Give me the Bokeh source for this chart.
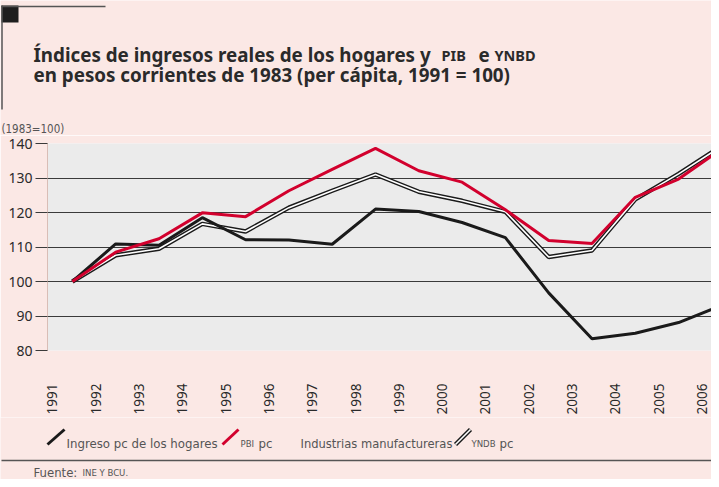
import numpy as np
from bokeh.plotting import figure
from bokeh.layouts import column
from bokeh.models import FixedTicker, Label, Range1d
from bokeh.embed import file_html
from bokeh.resources import INLINE

# ---------------- data ----------------
years = ["1991", "1992", "1993", "1994", "1995", "1996", "1997", "1998",
         "1999", "2000", "2001", "2002", "2003", "2004", "2005", "2006"]
ingreso_hogares = [100, 110.9, 110.5, 118.5, 112.1, 112.0, 110.8, 121.0,
                   120.3, 117.1, 112.7, 96.7, 83.4, 85.0, 88.1, 93.1]
pbi_pc = [100, 108.5, 112.4, 119.9, 118.8, 126.3, 132.5, 138.6,
          132.1, 128.8, 120.8, 111.9, 111.0, 124.4, 129.7, 138.5]
yndb_pc = [100, 107.6, 109.5, 116.7, 114.5, 121.4, 126.3, 131.0,
           126.0, 123.4, 120.2, 107.1, 109.0, 123.8, 131.2, 139.3]
y_ticks = [80, 90, 100, 110, 120, 130, 140]

PINK = "#fbe8e5"
GRAY = "#ebebeb"
DARK = "#2a2a2a"
SOFT = "#555555"
RED = "#d2002d"
NARROW = "Liberation Sans Narrow, DejaVu Sans Condensed, sans-serif"
SANS = "Noto Sans"
W = 711


def panel(top, bottom):
    """A pink strip whose data coordinates equal page pixels."""
    f = figure(width=W, height=bottom - top,
               x_range=Range1d(8, 8 + W), y_range=Range1d(bottom, top),
               output_backend="svg", toolbar_location=None,
               x_axis_location=None, y_axis_location=None,
               min_border_left=0, min_border_right=0,
               min_border_top=0, min_border_bottom=0,
               frame_align=False,
               background_fill_color=PINK, border_fill_color=PINK,
               outline_line_color=None)
    f.xgrid.visible = False
    f.ygrid.visible = False
    return f


def lab(f, text, x, y, size, color=DARK, font=SANS, style="normal",
        align="left", baseline="alphabetic"):
    f.add_layout(Label(x=x, y=y, text=text, text_font=font,
                       text_font_size=f"{size}px", text_color=color,
                       text_font_style=style, text_align=align,
                       text_baseline=baseline))


# ---------------- header ----------------
TOP_H, MAIN_TOP, MAIN_BOT = 8, 143, 425
head = panel(TOP_H, MAIN_TOP)
head.quad(left=[9], right=[26], top=[13], bottom=[30],
          fill_color="#1e1e1e", line_color=None)
head.segment(x0=[9, 9.5], y0=[14, 13], x1=[113, 9.5], y1=[14, 117],
             line_color="#555555", line_width=1.5)
lab(head, "Índices de ingresos reales de los hogares y", 41, 62, 18.8, style="bold")
lab(head, "PIB", 449, 62, 14.5, style="bold")
lab(head, "e", 486, 62, 18.8, style="bold")
lab(head, "YNBD", 502, 62, 14.5, style="bold")
lab(head, "en pesos corrientes de 1983 (per cápita, 1991 = 100)", 41, 82, 18.8,
    style="bold")
lab(head, "(1983=100)", 9, 136.5, 11.5, color=SOFT, font=NARROW)

# ---------------- main chart ----------------
xs = np.arange(len(years)) + 0.46
p = figure(width=W, height=MAIN_BOT - MAIN_TOP,
           x_range=Range1d(-0.115, 15.22), y_range=Range1d(80, 140),
           output_backend="svg", toolbar_location=None,
           min_border_left=47, min_border_right=0,
           min_border_top=151 - MAIN_TOP, min_border_bottom=MAIN_BOT - 360,
           frame_align=False,
           background_fill_color=GRAY, border_fill_color=PINK,
           outline_line_color=None)

p.xaxis.ticker = FixedTicker(ticks=list(range(len(years))))
p.xaxis.major_label_overrides = {i: y for i, y in enumerate(years)}
p.xaxis.major_label_orientation = np.pi / 2
p.xaxis.axis_line_color = None
p.xaxis.major_tick_line_color = None
p.xaxis.minor_tick_line_color = None
p.xaxis.major_label_standoff = 27
p.xaxis.major_label_text_font = SANS
p.xaxis.major_label_text_font_size = "13.5px"
p.xaxis.major_label_text_color = DARK

p.yaxis.ticker = FixedTicker(ticks=y_ticks)
p.yaxis.major_tick_out = 12
p.yaxis.major_tick_in = 0
p.yaxis.major_tick_line_color = "#3a3a3a"
p.yaxis.minor_tick_line_color = None
p.yaxis.axis_line_color = "#d9bdb6"
p.yaxis.major_label_standoff = 3
p.yaxis.major_label_text_font = SANS
p.yaxis.major_label_text_font_size = "14px"
p.yaxis.major_label_text_color = DARK

p.xgrid.grid_line_color = None
p.ygrid.grid_line_color = "#3a3a3a"
p.ygrid.grid_line_width = 1

p.line(xs, yndb_pc, line_color="#1a1a1a", line_width=4.4)
p.line(xs, yndb_pc, line_color="white", line_width=1.6)
p.line(xs, ingreso_hogares, line_color="#1a1a1a", line_width=3)
p.line(xs, pbi_pc, line_color=RED, line_width=3)

# ---------------- footer (legend + source) ----------------
LEG_Y = 450.5
foot = panel(MAIN_BOT, TOP_H + 479)
foot.segment(x0=[55], y0=[452], x1=[72], y1=[437], line_color="#1a1a1a", line_width=3)
lab(foot, "Ingreso pc de los hogares", 74, LEG_Y, 13.1, color=SOFT, font=NARROW)
foot.segment(x0=[230], y0=[452], x1=[246], y1=[437], line_color=RED, line_width=3)
lab(foot, "PBI", 248, LEG_Y, 9.5, color=SOFT, font=NARROW)
lab(foot, "pc", 266, LEG_Y, 13.1, color=SOFT, font=NARROW)
lab(foot, "Industrias manufactureras", 308, LEG_Y, 12.8, color=SOFT, font=NARROW)
foot.segment(x0=[463], y0=[452], x1=[478], y1=[437], line_color="#1a1a1a", line_width=4.4)
foot.segment(x0=[463], y0=[452], x1=[478], y1=[437], line_color="white", line_width=1.6)
lab(foot, "YNDB", 479, LEG_Y, 9.5, color=SOFT, font=NARROW)
lab(foot, "pc", 507, LEG_Y, 13.1, color=SOFT, font=NARROW)
foot.segment(x0=[9], y0=[468], x1=[719], y1=[468], line_color="#555555", line_width=1.5)
lab(foot, "Fuente:", 41, 480, 13, color=SOFT, font=NARROW)
lab(foot, "INE Y BCU.", 90, 480, 9.5, color=SOFT, font=NARROW)

layout = column(head, p, foot, spacing=0)
open("out.html", "w").write(file_html(layout, INLINE))
